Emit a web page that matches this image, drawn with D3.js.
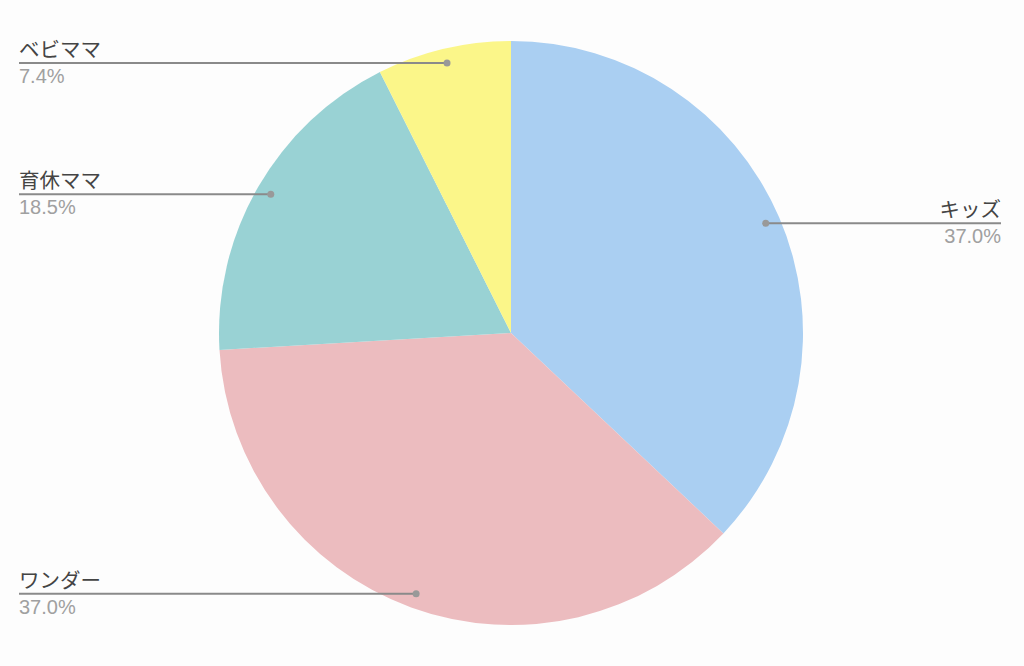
<!DOCTYPE html>
<html>
<head>
<meta charset="utf-8">
<script src="https://cdn.jsdelivr.net/npm/d3@7"></script>
<style>
  body { margin: 0; background: #fdfdfd; }
  svg { display: block; font-family: "Liberation Sans", "Noto Sans CJK JP", sans-serif; }
</style>
</head>
<body>
<div id="chart"></div>
<script>
// slices, clockwise from 12 o'clock
var categories = ["キッズ", "ワンダー", "育休ママ", "ベビママ"];
var values = [10, 10, 5, 2];
var percentLabels = ["37.0%", "37.0%", "18.5%", "7.4%"];
var colors = ["#aacff2", "#ecbcbf", "#99d2d4", "#fbf689"];

var width = 1024, height = 666;
var cx = 511, cy = 333, radius = 292;

var svg = d3.select("#chart").append("svg")
  .attr("width", width)
  .attr("height", height);

var pie = d3.pie().sort(null).value(d => d);
var arcs = pie(values);

var arc = d3.arc().innerRadius(0).outerRadius(radius);
var dotArc = d3.arc().innerRadius(radius * 0.95).outerRadius(radius * 0.95);

var g = svg.append("g")
  .attr("transform", "translate(" + cx + "," + cy + ")");

g.selectAll("path.slice")
  .data(arcs)
  .join("path")
  .attr("class", "slice")
  .attr("fill", (d, i) => colors[i])
  .attr("d", arc);

// leader lines + labels
var labels = svg.append("g");
arcs.forEach(function(d, i) {
  var p = dotArc.centroid(d);
  var x = cx + p[0], y = cy + p[1];
  var right = x > cx;
  var x2 = right ? 1001 : 19;

  labels.append("line")
    .attr("x1", x).attr("x2", x2)
    .attr("y1", y).attr("y2", y)
    .style("stroke", "#8a8a8a")
    .style("stroke-width", 2);

  labels.append("circle")
    .attr("cx", x).attr("cy", y)
    .attr("r", 3.5)
    .attr("fill", "#999");

  labels.append("text")
    .attr("x", x2)
    .attr("y", y - 6)
    .attr("text-anchor", right ? "end" : "start")
    .style("font-size", "20.5px")
    .style("fill", "#444")
    .text(categories[i]);

  labels.append("text")
    .attr("x", x2)
    .attr("y", y + 20)
    .attr("text-anchor", right ? "end" : "start")
    .style("font-size", "20px")
    .style("fill", "#a0a0a0")
    .text(percentLabels[i]);
});
</script>
</body>
</html>
